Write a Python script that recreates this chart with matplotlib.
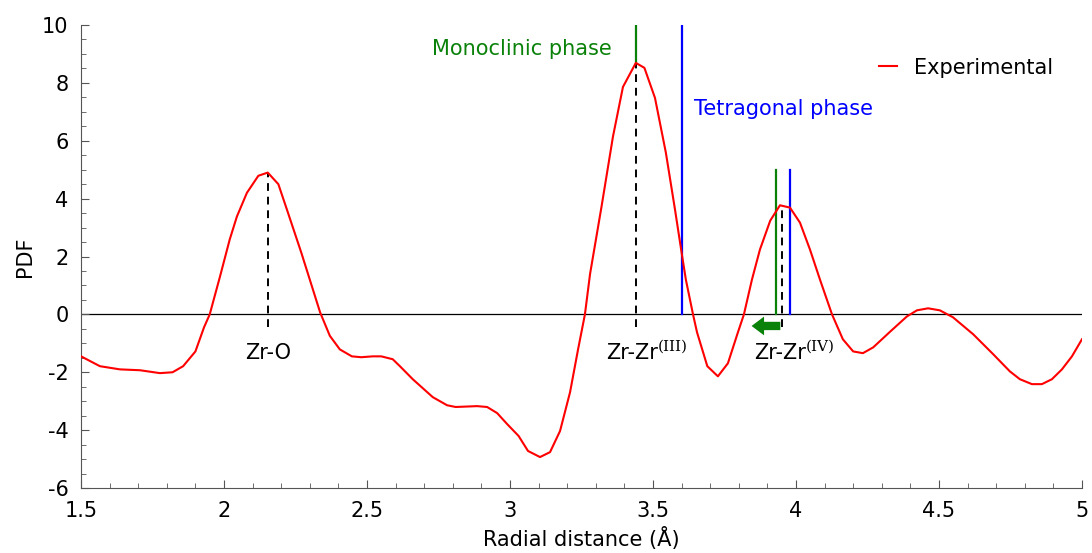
import numpy as np
import matplotlib.pyplot as plt
from matplotlib.ticker import MultipleLocator

# Experimental PDF curve
r = [1.50, 1.566, 1.636, 1.706, 1.776, 1.82, 1.857, 1.90, 1.93, 1.95,
     1.986, 2.02, 2.045, 2.08, 2.12, 2.153, 2.19, 2.22, 2.27, 2.30,
     2.336, 2.37, 2.405, 2.447, 2.48, 2.52, 2.55, 2.59, 2.615, 2.66,
     2.73, 2.78, 2.81, 2.885, 2.92, 2.955, 2.99, 3.03, 3.063, 3.105,
     3.14, 3.175, 3.21, 3.238, 3.262, 3.28, 3.32, 3.36, 3.395, 3.44,
     3.47, 3.507, 3.545, 3.577, 3.60, 3.615, 3.64, 3.654, 3.69, 3.727,
     3.762, 3.797, 3.818, 3.846, 3.874, 3.91, 3.944, 3.979, 4.014, 4.049,
     4.084, 4.126, 4.164, 4.20, 4.234, 4.27, 4.33, 4.388, 4.423, 4.462,
     4.503, 4.549, 4.62, 4.69, 4.748, 4.783, 4.825, 4.86, 4.895, 4.93,
     4.965, 5.00]
pdf = [-1.45, -1.79, -1.90, -1.93, -2.03, -2.00, -1.79, -1.28, -0.45, 0.0,
       1.31, 2.59, 3.38, 4.20, 4.79, 4.90, 4.50, 3.62, 2.14, 1.20,
       0.07, -0.74, -1.21, -1.45, -1.48, -1.45, -1.45, -1.55, -1.79, -2.24,
       -2.86, -3.14, -3.20, -3.17, -3.20, -3.41, -3.79, -4.20, -4.72, -4.93,
       -4.76, -4.03, -2.69, -1.21, 0.0, 1.40, 3.72, 6.14, 7.86, 8.69,
       8.52, 7.48, 5.59, 3.62, 2.14, 1.20, 0.0, -0.62, -1.79, -2.14,
       -1.69, -0.62, 0.0, 1.20, 2.24, 3.24, 3.77, 3.69, 3.17, 2.24,
       1.20, 0.0, -0.86, -1.28, -1.34, -1.14, -0.59, -0.07, 0.14, 0.21,
       0.14, -0.10, -0.69, -1.38, -1.97, -2.24, -2.41, -2.41, -2.24, -1.90,
       -1.45, -0.86]

# peak markers
peak_r = [2.153, 3.44, 3.95]
peak_top = [4.90, 8.69, 3.76]
peak_labels = ['Zr-O', 'Zr-Zr', 'Zr-Zr']
peak_sup = ['', '(III)', '(IV)']
label_x = [2.155, 3.336, 3.853]

mono_r = [3.44, 3.93]
mono_top = [10, 5]
tetra_r = [3.60, 3.98]
tetra_top = [10, 5]

plt.rcParams['font.size'] = 15
plt.rcParams['axes.unicode_minus'] = False

fig = plt.figure(figsize=(10.92, 5.53), dpi=100)
ax = fig.add_axes([0.0742, 0.1175, 0.9166, 0.8373])

ax.axhline(0, color='black', lw=0.9, zorder=1)

# monoclinic / tetragonal reference lines
ax.plot([mono_r[0], mono_r[0]], [peak_top[1], mono_top[0]], color='#0a820a', lw=1.6)
ax.plot([mono_r[1], mono_r[1]], [0, mono_top[1]], color='#0a820a', lw=1.6)
for x, top in zip(tetra_r, tetra_top):
    ax.plot([x, x], [0, top], color='#0000ff', lw=1.6)

# dashed peak positions
for x, top in zip(peak_r, peak_top):
    ax.plot([x, x], [-0.45, top], color='black', ls=(0, (4, 3)), lw=1.4, zorder=2)

ax.plot(r, pdf, color='#ff0000', lw=1.5, label='Experimental', zorder=3)

for x, s, sup in zip(label_x, peak_labels, peak_sup):
    if not sup:
        ax.text(x, -1.35, s, ha='center', va='center', fontsize=15)
        continue
    t = ax.text(x, -1.35, s, ha='left', va='center', fontsize=15)
    ax.annotate(sup, xy=(1, 0.5), xycoords=t, xytext=(0, 0), textcoords='offset points',
                ha='left', va='bottom', fontsize=11, family='DejaVu Serif')

ax.annotate('', xy=(3.835, -0.4), xytext=(3.955, -0.4),
            arrowprops=dict(arrowstyle='simple,head_width=0.9,head_length=0.6,tail_width=0.4',
                            color='#0a820a', lw=0))

ax.text(3.357, 9.17, 'Monoclinic phase', color='#0a820a', ha='right', va='center', fontsize=15)
ax.text(3.643, 7.1, 'Tetragonal phase', color='#0000ff', ha='left', va='center', fontsize=15)

ax.legend(loc='upper right', frameon=False, fontsize=15, handlelength=0.9,
          bbox_to_anchor=(0.99, 0.97))

ax.set_xlim(1.5, 5)
ax.set_ylim(-6, 10)
ax.xaxis.set_major_locator(MultipleLocator(0.5))
ax.xaxis.set_minor_locator(MultipleLocator(0.1))
ax.yaxis.set_major_locator(MultipleLocator(2))
ax.yaxis.set_minor_locator(MultipleLocator(0.5))
ax.xaxis.set_major_formatter(plt.FuncFormatter(lambda v, p: f'{v:g}'))
ax.tick_params(which='both', direction='in', colors='#555555', labelcolor='black', labelsize=15)
ax.tick_params(which='major', length=6, pad=9)
ax.tick_params(which='minor', length=3.5)
ax.spines['top'].set_visible(False)
ax.spines['right'].set_visible(False)
ax.spines['left'].set_color('#555555')
ax.spines['bottom'].set_color('#555555')

ax.set_xlabel('Radial distance (Å)', fontsize=15, labelpad=5)
ax.set_ylabel('PDF', fontsize=15, labelpad=5)

plt.savefig('out.png', dpi=100)
